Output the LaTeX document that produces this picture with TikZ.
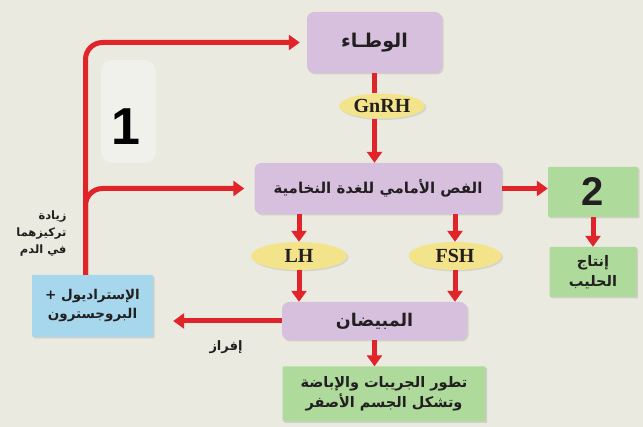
\documentclass[tikz,border=0pt]{standalone}
\usepackage{fontspec}
\newfontfamily\arabicfont[Script=Arabic]{DejaVu Sans}
\newfontfamily\hormonefont{Liberation Serif}
\newfontfamily\digitfont{Liberation Sans}
\TeXXeTstate=1
\usetikzlibrary{arrows.meta,shapes.geometric,shadows}

\definecolor{paper}{HTML}{EBEAE1}
\definecolor{organpurple}{HTML}{D6C0DE}
\definecolor{hormoneyellow}{HTML}{F3E38B}
\definecolor{effectgreen}{HTML}{AEDA9C}
\definecolor{steroidblue}{HTML}{A6D7EC}
\definecolor{feedred}{HTML}{E1232A}
\definecolor{ink}{HTML}{231F20}

\newcommand{\rl}[1]{\beginR #1\endR}

\begin{document}
\begin{tikzpicture}[x=1pt,y=-1pt]
  \tikzstyle{box}=[rounded corners=7pt, text=ink, align=center,
    drop shadow={shadow xshift=1.5pt, shadow yshift=-1.5pt, opacity=0.25}]
  \tikzstyle{organ}=[box, fill=organpurple, font=\arabicfont\bfseries\fontsize{17.5}{20}\selectfont]
  \tikzstyle{effect}=[box, rounded corners=1pt, fill=effectgreen, font=\arabicfont\bfseries\fontsize{14.5}{20}\selectfont]
  \tikzstyle{steroid}=[box, rounded corners=1pt, fill=steroidblue, font=\arabicfont\bfseries\fontsize{13.5}{19}\selectfont]
  \tikzstyle{hormone}=[ellipse, fill=hormoneyellow, inner sep=0pt, text=ink,
    drop shadow={shadow xshift=1.5pt, shadow yshift=-1.5pt, opacity=0.2},
    font=\hormonefont\bfseries\fontsize{20}{22}\selectfont]
  \tikzstyle{redline}=[draw=feedred, line width=5pt]
  \tikzstyle{redarrow}=[redline, -{Triangle[length=11pt,width=15pt]}]

  \useasboundingbox (0,0) rectangle (643,427);
  \fill[paper] (0,0) rectangle (643,427);
  \fill[white, opacity=0.35, rounded corners=12pt] (101,60) rectangle (156,163);

  \path (374.5,42.5) node[organ, minimum width=135pt, minimum height=61pt, font=\arabicfont\bfseries\fontsize{19}{21}\selectfont] (hyp) {\rl{الوطـاء}};
  \path (382,106) node[hormone, minimum width=86pt, minimum height=25pt] (gnrh) {GnRH};
  \path (378,188.5) node[organ, minimum width=247pt, minimum height=51pt, font=\arabicfont\bfseries\fontsize{15}{18}\selectfont] (pit) {\rl{الفص الأمامي للغدة النخامية}};
  \path (299,256) node[hormone, minimum width=96pt, minimum height=28pt] (lh) {LH};
  \path (455,256) node[hormone, minimum width=93pt, minimum height=28pt] (fsh) {FSH};
  \path (374.5,321) node[organ, minimum width=185pt, minimum height=38pt] (ovary) {\rl{المبيضان}};
  \path (92.5,306) node[steroid, minimum width=121pt, minimum height=62pt] (steroids) {\rl{الإستراديول +}\\\rl{البروجسترون}};
  \path (384,394) node[effect, minimum width=203pt, minimum height=55pt] (follicle) {\rl{تطور الجريبات والإباضة}\\\rl{وتشكل الجسم الأصفر}};
  \path (593,192) node[effect, minimum width=90pt, minimum height=50pt, font=\digitfont\bfseries\fontsize{40}{40}\selectfont] (two) {2};
  \path (593,272) node[effect, minimum width=87pt, minimum height=50pt] (milk) {\rl{إنتاج}\\\rl{الحليب}};
  \path (226,347) node[text=ink, font=\arabicfont\bfseries\fontsize{13}{15}\selectfont] (secrete) {\rl{إفراز}};
  \path (70,234) node[anchor=east, align=right, text=ink, font=\arabicfont\bfseries\fontsize{11.5}{17}\selectfont] (rise) {\rl{زيادة}\\\rl{تركيزهما}\\\rl{في الدم}};
  \path (126,127) node[text=black, font=\digitfont\bfseries\fontsize{52}{52}\selectfont] (one) {1};

  % hormone cascade
  \draw[redline] (hyp.south) -- (hyp.south |- gnrh.north);
  \draw[redarrow] (hyp.south |- gnrh.south) -- (hyp.south |- pit.north);
  \draw[redarrow] (pit.south -| lh) -- (lh.north);
  \draw[redarrow] (pit.south -| fsh) -- (fsh.north);
  \draw[redarrow] (lh.south) -- (lh.south |- ovary.north);
  \draw[redarrow] (fsh.south) -- (fsh.south |- ovary.north);
  \draw[redarrow] (pit.east) -- (pit.east -| two.west);
  \draw[redarrow] (two.south) -- (milk.north);
  \draw[redarrow] (ovary.south) -- (ovary.south |- follicle.north);
  \draw[redarrow] (ovary.west) -- ([xshift=20pt]ovary.west -| steroids.east);

  % feedback
  \draw[redarrow, rounded corners=17pt] ([xshift=-7pt]steroids.north) |- ([xshift=-7pt]hyp.west);
  \draw[redarrow, rounded corners=17pt] ([xshift=-7pt]steroids.north) |- ([xshift=-10pt]pit.west);
\end{tikzpicture}
\end{document}
